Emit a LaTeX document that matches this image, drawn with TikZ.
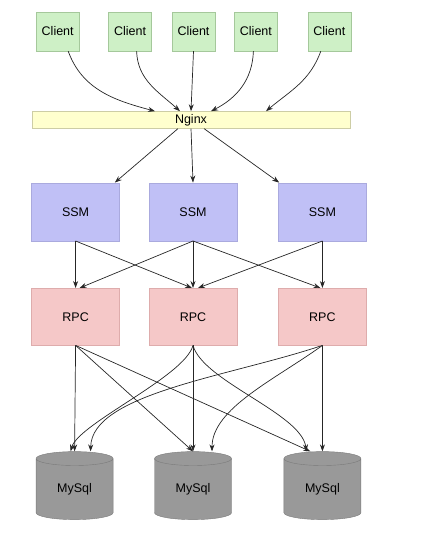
\documentclass[tikz,border=0pt]{standalone}
\usepackage{fontspec}
\setmainfont{Liberation Sans}
\usepackage{tikz}
\usetikzlibrary{shapes.geometric, arrows.meta, positioning}
\definecolor{clientfill}{RGB}{206,240,198}
\definecolor{clientdraw}{RGB}{165,200,155}
\definecolor{proxyfill}{RGB}{255,255,206}
\definecolor{proxydraw}{RGB}{205,205,165}
\definecolor{ssmfill}{RGB}{192,192,246}
\definecolor{ssmdraw}{RGB}{170,170,222}
\definecolor{rpcfill}{RGB}{245,200,200}
\definecolor{rpcdraw}{RGB}{222,172,172}
\definecolor{dbfill}{RGB}{153,153,153}
\definecolor{dbdraw}{RGB}{122,122,122}

\begin{document}
\begin{tikzpicture}[
    x=1pt, y=1pt,
    font=\fontsize{12.5}{15}\selectfont,
    client/.style={rectangle, minimum width=43pt, minimum height=39pt, inner sep=0pt, text centered, draw=clientdraw, fill=clientfill},
    proxy/.style={rectangle, minimum width=318pt, minimum height=17pt, inner sep=0pt, text centered, draw=proxydraw, fill=proxyfill},
    service/.style={rectangle, minimum width=88pt, minimum height=58pt, inner sep=0pt, text centered, draw=ssmdraw, fill=ssmfill},
    remote/.style={rectangle, minimum width=88pt, minimum height=57pt, inner sep=0pt, text centered, draw=rpcdraw, fill=rpcfill},
    database/.style={cylinder, shape border rotate=90, aspect=0.4, minimum width=77pt, minimum height=68pt, inner sep=0pt, text centered, draw=dbdraw, fill=dbfill},
    arrow/.style={line width=0.7pt, ->, >={Stealth[length=7pt, width=5pt]}, color=black!85}
]
\useasboundingbox (0,0) rectangle (431,-556);

\node (c3) [client] at (193.5,-31.5) {Client};
\node (c2) [client, left=20pt of c3] {Client};
\node (c1) [client, left=29pt of c2] {Client};
\node (c4) [client, right=19pt of c3] {Client};
\node (c5) [client, right=30pt of c4] {Client};
\node (nginx) [proxy, below=60pt of c3, xshift=-2.5pt] {Nginx};
\node (ssm2) [service, below=54pt of nginx, xshift=2pt] {SSM};
\node (ssm1) [service, left=29pt of ssm2] {SSM};
\node (ssm3) [service, right=41pt of ssm2] {SSM};
\node (rpc2) [remote, below=47pt of ssm2] {RPC};
\node (rpc1) [remote, left=29pt of rpc2] {RPC};
\node (rpc3) [remote, right=41pt of rpc2] {RPC};
\node (db2) [database, below=106pt of rpc2] {MySql};
\node (db1) [database, left=41pt of db2] {MySql};
\node (db3) [database, right=52pt of db2] {MySql};

% clients -> nginx
\draw [arrow] ([xshift=10.5pt]c1.south) to[out=-70, in=165] ([xshift=-36pt]nginx.north);
\draw [arrow] ([xshift=6.5pt]c2.south) to[out=-88, in=138] ([xshift=-11pt]nginx.north);
\draw [arrow] (c3.south) -- (nginx.north);
\draw [arrow] ([xshift=-2.5pt]c4.south) to[out=-92, in=27] ([xshift=20pt]nginx.north);
\draw [arrow] ([xshift=-8.5pt]c5.south) to[out=-110, in=40] ([xshift=75pt]nginx.north);

% nginx -> ssm
\draw [arrow] ([xshift=-13pt]nginx.south) -- ([xshift=-5pt]ssm1.north east);
\draw [arrow] (nginx.south) -- (ssm2.north);
\draw [arrow] ([xshift=13pt]nginx.south) -- ([xshift=1pt]ssm3.north west);

% ssm -> rpc
\draw [arrow] (ssm1.south) -- (rpc1.north);
\draw [arrow] (ssm1.south) -- ([xshift=-1pt]rpc2.north);
\draw [arrow] (ssm2.south) -- ([xshift=4pt]rpc1.north);
\draw [arrow] (ssm2.south) -- (rpc2.north);
\draw [arrow] (ssm2.south) -- ([xshift=-2pt]rpc3.north);
\draw [arrow] (ssm3.south) -- ([xshift=5pt]rpc2.north);
\draw [arrow] (ssm3.south) -- (rpc3.north);

% rpc -> mysql
\draw [arrow] (rpc1.south) -- (db1.north);
\draw [arrow] (rpc1.south) -- (db2.north);
\draw [arrow] (rpc1.south) -- ([xshift=-12pt]db3.north);
\draw [arrow] (rpc2.south) .. controls +(-8,-31) and +(8,28) .. ([xshift=-4pt]db1.north);
\draw [arrow] (rpc2.south) -- (db2.north);
\draw [arrow] (rpc2.south) .. controls +(10,-36) and +(-5,38) .. ([xshift=-16pt]db3.north);
\draw [arrow] (rpc3.south) .. controls +(-92,-31) and +(1,58) .. ([xshift=16pt]db1.north);
\draw [arrow] (rpc3.south) .. controls +(-47,-34) and +(0,43) .. ([xshift=19pt]db2.north);
\draw [arrow] (rpc3.south) -- (db3.north);

\end{tikzpicture}
\end{document}
